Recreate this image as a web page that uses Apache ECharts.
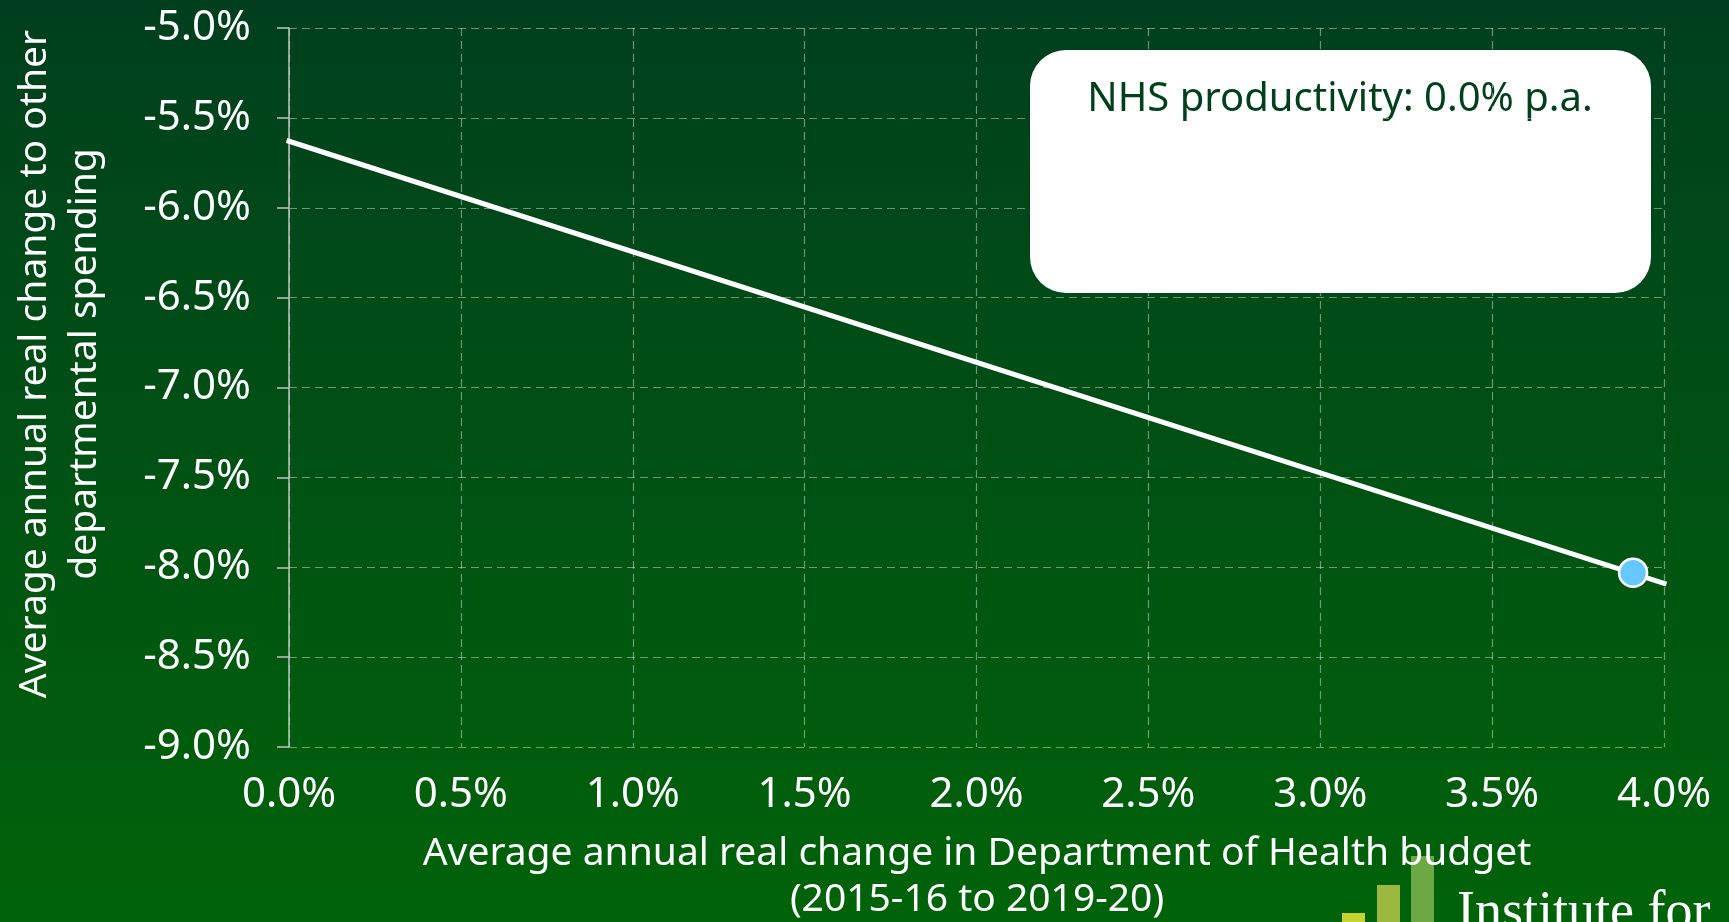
<!DOCTYPE html>
<html>
<head>
<meta charset="utf-8">
<title>Health budget vs other departmental spending</title>
<script src="https://cdn.jsdelivr.net/npm/echarts@6/dist/echarts.min.js"></script>
<style>
  html, body { margin: 0; padding: 0; width: 100%; height: 100%; overflow: hidden; }
  #chart { width: 1729px; height: 922px; }
</style>
</head>
<body>
<div id="chart"></div>
<script>
// Average annual real change in Department of Health budget (x, %)
var healthChange = [0.0, 4.0];
// Implied average annual real change to other departmental spending (y, %)
var otherChange = [-5.63, -8.09];
// Highlighted scenario point
var pointHealth = [3.91];
var pointOther = [-8.03];
// Axis ticks
var xTicks = ['0.0%', '0.5%', '1.0%', '1.5%', '2.0%', '2.5%', '3.0%', '3.5%', '4.0%'];
var yTicks = ['-9.0%', '-8.5%', '-8.0%', '-7.5%', '-7.0%', '-6.5%', '-6.0%', '-5.5%', '-5.0%'];
var productivityNote = 'NHS productivity: 0.0% p.a.';

var FONT = '"Noto Sans", "Open Sans", sans-serif';

var chart = echarts.init(document.getElementById('chart'), null, { renderer: 'canvas' });

var lineData = healthChange.map(function (x, i) { return [x, otherChange[i]]; });
var pointData = pointHealth.map(function (x, i) { return [x, pointOther[i]]; });

var gridDash = { color: 'rgba(255,255,255,0.42)', width: 1.2, type: [8, 5] };

var option = {
  backgroundColor: {
    type: 'linear', x: 0, y: 0, x2: 0, y2: 1,
    colorStops: [
      { offset: 0, color: '#003f1e' },
      { offset: 1, color: '#006309' }
    ]
  },
  animation: false,
  grid: { left: 289, right: 65, top: 28, bottom: 175, containLabel: false },
  xAxis: {
    type: 'value', min: 0, max: 4, interval: 0.5,
    axisLine: { show: false },
    axisTick: { show: false },
    axisLabel: {
      color: '#ffffff', fontFamily: FONT, fontSize: 42, margin: 27,
      formatter: function (v) { return xTicks[Math.round(v / 0.5)]; }
    },
    splitLine: { show: true, lineStyle: gridDash }
  },
  yAxis: {
    type: 'value', min: -9, max: -5, interval: 0.5,
    axisLine: { show: true, onZero: false, lineStyle: { color: '#c2c2c2', width: 1.5 } },
    axisTick: { show: true, length: 12, lineStyle: { color: '#c2c2c2', width: 1.5 } },
    axisLabel: {
      color: '#ffffff', fontFamily: FONT, fontSize: 42, margin: 38,
      formatter: function (v) { return yTicks[Math.round((v + 9) / 0.5)]; }
    },
    splitLine: { show: true, lineStyle: gridDash }
  },
  series: [
    {
      type: 'line',
      data: lineData,
      showSymbol: false,
      clip: false,
      lineStyle: { color: '#ffffff', width: 5, cap: 'square' },
      z: 3
    },
    {
      type: 'scatter',
      data: pointData,
      symbol: 'circle',
      symbolSize: 28,
      itemStyle: { color: '#66c8ff', borderColor: '#ffffff', borderWidth: 2.5, opacity: 1 },
      z: 4
    }
  ],
  graphic: [
    // scenario note box
    {
      type: 'group', left: 1030, top: 50, z: 10,
      children: [
        { type: 'rect', shape: { x: 0, y: 0, width: 621, height: 243, r: 36 }, style: { fill: '#ffffff' } },
        { type: 'text', x: 310, y: 50, style: { text: productivityNote, fill: '#00401b', font: '40px ' + FONT, align: 'center', verticalAlign: 'middle' } }
      ]
    },
    // y axis title
    {
      type: 'text', x: 60, y: 364, rotation: Math.PI / 2, z: 10,
      style: {
        text: 'Average annual real change to other\ndepartmental spending',
        fill: '#ffffff', font: '39px ' + FONT, align: 'center', verticalAlign: 'middle', lineHeight: 50
      }
    },
    // x axis title
    {
      type: 'text', x: 977, y: 877, z: 10,
      style: {
        text: 'Average annual real change in Department of Health budget\n(2015-16 to 2019-20)',
        fill: '#ffffff', font: '39px ' + FONT, align: 'center', verticalAlign: 'middle', lineHeight: 46
      }
    },
    // institute logo (partly outside the frame)
    { type: 'rect', z: 5, shape: { x: 1342, y: 913, width: 23, height: 40 }, style: { fill: '#c6d22e' } },
    { type: 'rect', z: 5, shape: { x: 1377, y: 885, width: 23, height: 70 }, style: { fill: '#9db83e' } },
    { type: 'rect', z: 5, shape: { x: 1411, y: 856, width: 23, height: 100 }, style: { fill: '#6ca944' } },
    {
      type: 'text', x: 1457, y: 941, z: 5,
      style: { text: 'Institute for', fill: '#ffffff', font: '54px "Liberation Serif", "DejaVu Serif", serif', align: 'left', verticalAlign: 'bottom' }
    }
  ]
};

chart.setOption(option);
</script>
</body>
</html>
